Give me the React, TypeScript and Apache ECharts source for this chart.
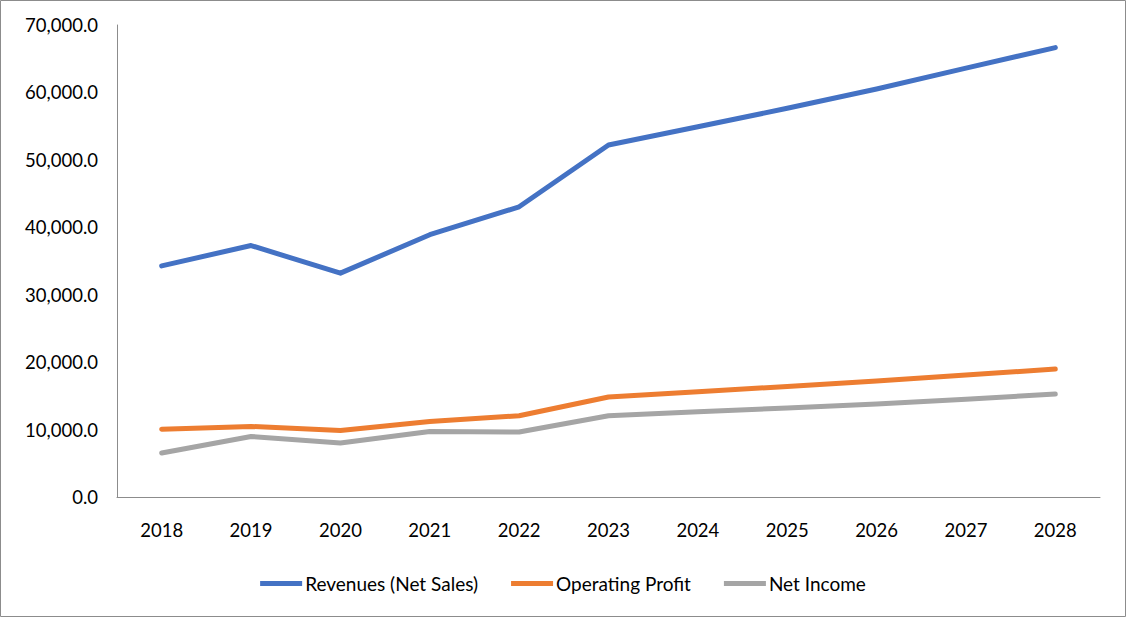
import React, { useEffect, useRef } from "react";
import * as echarts from "echarts";

const years = ["2018", "2019", "2020", "2021", "2022", "2023", "2024", "2025", "2026", "2027", "2028"];
const revenues = [34280, 37290, 33200, 38900, 43040, 52200, 54900, 57650, 60500, 63600, 66650];
const operatingProfit = [10060, 10460, 9870, 11200, 12050, 14820, 15600, 16400, 17200, 18100, 18970];
const netIncome = [6520, 8980, 8000, 9720, 9630, 12050, 12650, 13200, 13800, 14500, 15270];
const seriesNames = ["Revenues (Net Sales)", "Operating Profit", "Net Income"];
const colors = ["#4472C4", "#ED7D31", "#A5A5A5"];

const FONT = "Lato, 'Open Sans', sans-serif";

export default function App() {
  const ref = useRef<HTMLDivElement>(null);
  useEffect(() => {
    document.body.style.margin = "0";
    if (!ref.current) return;
    const chart = echarts.init(ref.current, null, { renderer: "svg" });
    const mk = (name: string, data: number[], color: string) => ({
      name,
      type: "line",
      data,
      symbol: "none",
      showSymbol: false,
      color,
      itemStyle: { color },
      lineStyle: { width: 5, color, cap: "round", join: "round" },
    });
    chart.setOption({
      animation: false,
      backgroundColor: "#fff",
      textStyle: { fontFamily: FONT },
      graphic: [
        {
          type: "rect",
          shape: { x: 0.5, y: 0.5, width: 1125, height: 616 },
          style: { fill: "none", stroke: "#8c8c8c", lineWidth: 1 },
          silent: true,
        },
      ],
      grid: { left: 117, right: 26, top: 25, bottom: 120, containLabel: false },
      xAxis: {
        type: "category",
        data: years,
        boundaryGap: true,
        axisLine: { show: true, lineStyle: { color: "#8c8c8c", width: 1 } },
        axisTick: { show: false },
        axisLabel: { color: "#000", fontSize: 18.5, fontFamily: FONT, margin: 23 },
        splitLine: { show: false },
      },
      yAxis: {
        type: "value",
        min: 0,
        max: 70000,
        interval: 10000,
        axisLine: { show: true, lineStyle: { color: "#8c8c8c", width: 1 } },
        axisTick: { show: false },
        splitLine: { show: false },
        axisLabel: {
          color: "#000",
          fontSize: 18.5,
          fontFamily: FONT,
          margin: 19,
          formatter: (v: number) =>
            v.toLocaleString("en-US", { minimumFractionDigits: 1, maximumFractionDigits: 1 }),
        },
      },
      legend: {
        top: 569,
        left: "center",
        icon: "rect",
        itemWidth: 42,
        itemHeight: 5,
        itemGap: 33,
        textStyle: { color: "#000", fontSize: 19, fontFamily: FONT, padding: [0, 0, 0, -2] },
        data: seriesNames,
      },
      series: [
        mk(seriesNames[0], revenues, colors[0]),
        mk(seriesNames[1], operatingProfit, colors[1]),
        mk(seriesNames[2], netIncome, colors[2]),
      ],
    });
    return () => chart.dispose();
  }, []);
  return <div ref={ref} style={{ width: 1126, height: 617 }} />;
}
